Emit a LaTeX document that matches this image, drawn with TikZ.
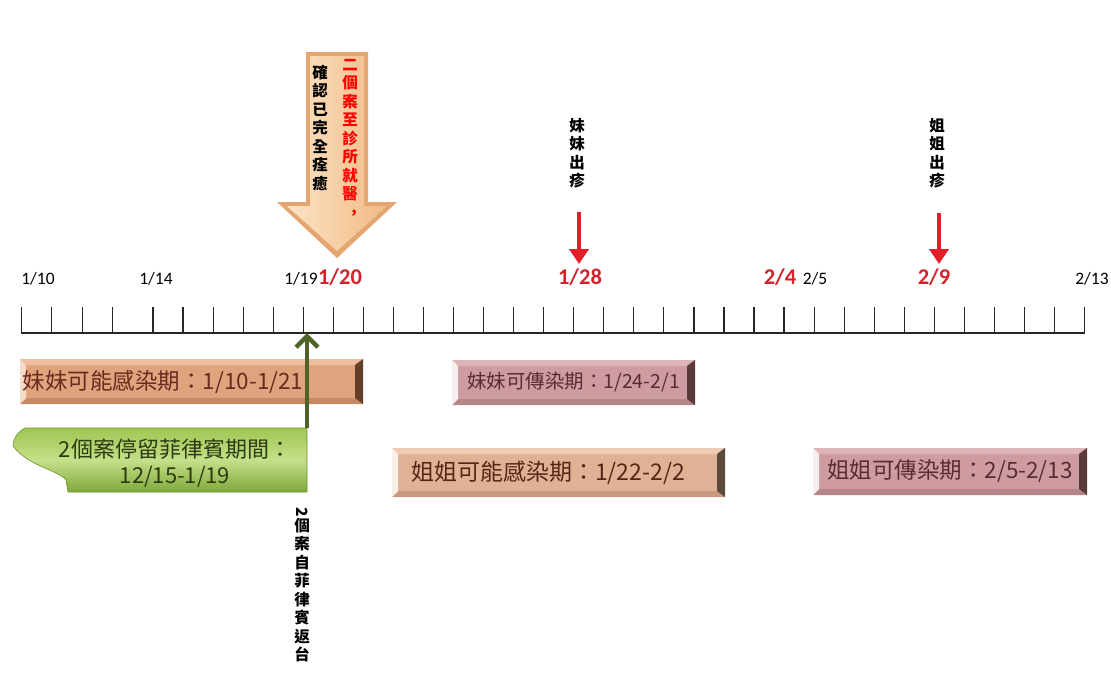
\documentclass[tikz,border=0pt]{standalone}
\usepackage{fontspec}
\setmainfont{Carlito}
\newfontfamily\cjk{Noto Sans CJK TC}
\usetikzlibrary{arrows.meta}
\definecolor{redlab}{HTML}{D2232A}
\definecolor{arrred}{HTML}{E41E26}
\definecolor{gdark}{HTML}{4F6228}
\definecolor{gtext}{HTML}{2E3B12}
\definecolor{aOut}{HTML}{E4A670}
\definecolor{aL}{HTML}{FBE3C8}
\definecolor{aM}{HTML}{F7CFA4}
\definecolor{aR}{HTML}{F0BA86}
% bar 1
\definecolor{oMain}{HTML}{E1A37D}\definecolor{oTop}{HTML}{EEBE9E}\definecolor{oBot}{HTML}{C88962}\definecolor{oLeft}{HTML}{F6DCC8}\definecolor{oRight}{HTML}{643E2D}\definecolor{oText}{HTML}{6B2A1F}
% bar 2/4 pink
\definecolor{pMain}{HTML}{CD9BA0}\definecolor{pTop}{HTML}{DDB5B8}\definecolor{pBot}{HTML}{B5858A}\definecolor{pLeft}{HTML}{F8EEEE}\definecolor{pRight}{HTML}{5B3A3D}\definecolor{pText}{HTML}{5C2A33}
% bar 3
\definecolor{tMain}{HTML}{E0B295}\definecolor{tTop}{HTML}{EDCBB5}\definecolor{tBot}{HTML}{C99A7E}\definecolor{tLeft}{HTML}{FAF0E8}\definecolor{tRight}{HTML}{5E4A3C}\definecolor{tText}{HTML}{5A2414}
% green
\definecolor{gTop}{HTML}{A0C652}\definecolor{gMid}{HTML}{C4E08A}\definecolor{gBot}{HTML}{80A83A}\definecolor{gLine}{HTML}{6E9132}
\tikzset{
  tickmark/.style={line width=1.2pt,black!85},
  datelab/.style={font=\fontsize{17.5}{20}\selectfont,inner sep=0pt},
  reddate/.style={font=\bfseries\fontsize{22.5}{24}\selectfont,text=redlab,inner sep=0pt},
  vtext/.style={align=center,inner sep=0pt,font=\cjk\bfseries\fontsize{15.5}{18.5}\selectfont},
  redarr/.style={arrred,line width=4.5pt,-{Triangle[length=15pt,width=19pt]}},
  bevelbar/.style n args={5}{fill=#1, path picture={
      \coordinate (bvsw) at (path picture bounding box.south west);
      \coordinate (bvne) at (path picture bounding box.north east);
      \coordinate (bvnw) at (bvsw |- bvne);
      \coordinate (bvse) at (bvne |- bvsw);
      \fill[#2] (bvnw) -- (bvne) -- ([shift={(-8pt,-6pt)}]bvne) -- ([shift={(6pt,-6pt)}]bvnw) -- cycle;
      \fill[#3] (bvsw) -- (bvse) -- ([shift={(-8pt,6pt)}]bvse) -- ([shift={(6pt,6pt)}]bvsw) -- cycle;
      \fill[#4] (bvnw) -- (bvsw) -- ([shift={(6pt,6pt)}]bvsw) -- ([shift={(6pt,-6pt)}]bvnw) -- cycle;
      \fill[#5] (bvne) -- (bvse) -- ([shift={(-8pt,6pt)}]bvse) -- ([shift={(-8pt,-6pt)}]bvne) -- cycle;
    }},
  bartext/.style={inner ysep=0pt,font=\cjk\fontsize{#1}{#1}\selectfont},
}
\begin{document}
\begin{tikzpicture}[x=1pt,y=-1pt]
\useasboundingbox[fill=white] (0,0) rectangle (1111,672);

% ---- timeline ----
\draw[line width=1.3pt,black!85] (21.4,333) -- (1084.6,333);
\foreach \x in {21.4,51.8,82.2,112.6} \draw[tickmark] (\x,307) -- (\x,333);
\foreach \k in {0,...,31} \draw[tickmark] ({153+30.05*\k},307) -- ({153+30.05*\k},333);
\coordinate (t19) at (307,333);

\node[datelab] (d110) at (38,279) {1/10};
\node[datelab] (d114) at (156,279) {1/14};
\node[datelab] (d119) at (301,279) {1/19};
\node[datelab] (d205) at (815,279) {2/5};
\node[datelab] (d213) at (1092,279) {2/13};
\node[reddate] (d120) at (340,277) {1/20};
\node[reddate] (d128) at (580,277) {1/28};
\node[reddate] (d204) at (780,277) {2/4};
\node[reddate] (d209) at (934,277) {2/9};

% ---- big arrow ----
\fill[aOut] (306,52) -- (368,52) -- (368,202) -- (397,202) -- (337,258) -- (277,202) -- (306,202) -- cycle;
\shade[left color=aL, right color=aR, middle color=aM]
  (310,56) -- (364,56) -- (364,206) -- (387,206) -- (337,251) -- (287,206) -- (310,206) -- cycle;
\node[vtext] (colL) at (320,128) {確\\認\\已\\完\\全\\痊\\癒};
\node[vtext,text=red] (colR) at (350,130) {二\\個\\案\\至\\診\\所\\就\\醫};
\node[inner sep=0pt,text=red,font=\cjk\bfseries\fontsize{15.5}{15.5}\selectfont] (comma) at (354,214) {，};

% ---- rash arrows ----
\node[vtext] (s1) at (577,153) {妹\\妹\\出\\疹};
\node[vtext] (s2) at (937,153) {姐\\姐\\出\\疹};
\coordinate (r1a) at (579,212); \coordinate (r1b) at (579,264);
\coordinate (r2a) at (939,213); \coordinate (r2b) at (939,264);
\draw[redarr] (r1a) -- (r1b);
\draw[redarr] (r2a) -- (r2b);

% ---- bars ----
\node[bevelbar={oMain}{oTop}{oBot}{oLeft}{oRight},
  bartext=22.5, text=oText, minimum height=45pt, text width=337pt, inner xsep=3pt, align=left] (b1) at (191.5,381.5) {妹妹可能感染期：1/10-1/21};
\node[bevelbar={pMain}{pTop}{pBot}{pLeft}{pRight},
  bartext=19.5, text=pText, minimum height=45pt, minimum width=243pt] (b2) at (573.5,382.5) {妹妹可傳染期：1/24-2/1};
\node[bevelbar={tMain}{tTop}{tBot}{tLeft}{tRight},
  bartext=23, text=tText, minimum height=49pt, text width=313pt, inner xsep=10pt, align=left] (b3) at (558.5,472.5) {\hspace*{9pt}姐姐可能感染期：1/22-2/2};
\node[bevelbar={pMain}{pTop}{pBot}{pLeft}{pRight},
  bartext=22.5, text=pText, minimum height=47pt, minimum width=274pt] (b4) at (950,471.5) {姐姐可傳染期：2/5-2/13};

% ---- green ribbon ----
\shade[top color=gTop, bottom color=gBot, middle color=gMid, draw=gLine, line width=0.6pt]
  (25,428) -- (307,428) -- (307,492) -- (68,492) -- (66,480) .. controls (58,470) and (28,466) .. (13,446) .. controls (13,438) and (18,432) .. (25,428) -- cycle;
\node[align=center, inner sep=0pt, text=gtext, font=\cjk\fontsize{22}{26}\selectfont] (gtxt) at (175,463) {2個案停留菲律賓期間：\\12/15-1/19};
\coordinate (gtop) at (307,428);
\draw[gdark, line width=4.5pt, -{Straight Barb[length=11pt,width=22pt]}] (gtop) -- (t19);

% ---- return text ----
\node[vtext] (ret) at (302,585) {\rotatebox{-90}{2}\\個\\案\\自\\菲\\律\\賓\\返\\台};
\end{tikzpicture}
\end{document}
